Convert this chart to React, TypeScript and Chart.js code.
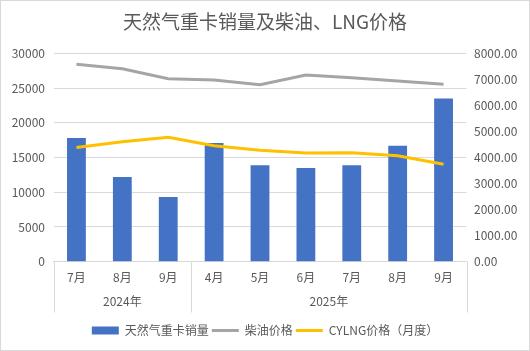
import React, { useEffect, useRef } from 'react';
import { Chart, registerables } from 'chart.js';

Chart.register(...registerables);

const titleText = '天然气重卡销量及柴油、LNG价格';
const months = ['7月', '8月', '9月', '4月', '5月', '6月', '7月', '8月', '9月'];
const yearLabels = ['2024年', '2025年'];
const yearSpans = [3, 6];
const seriesNames = ['天然气重卡销量', '柴油价格', 'CYLNG价格（月度）'];
const sales = [17800, 12200, 9300, 17100, 13900, 13500, 13900, 16700, 23500];
const dieselPrice = [7580, 7410, 7025, 6975, 6795, 7170, 7060, 6940, 6810];
const lngPrice = [4380, 4605, 4775, 4455, 4275, 4175, 4185, 4070, 3740];

const FONT = '"Noto Sans CJK SC", "Noto Sans", sans-serif';
const TEXT = '#595959';
const GRID = '#d9d9d9';

const groupPlugin = {
  id: 'groupAxis',
  afterDraw(chart: any) {
    const x = chart.scales.x;
    const { ctx, chartArea } = chart;
    const bottom = chartArea.bottom;
    const half = (x.getPixelForValue(1) - x.getPixelForValue(0)) / 2;
    ctx.save();
    ctx.strokeStyle = GRID;
    ctx.lineWidth = 1;
    ctx.fillStyle = TEXT;
    ctx.font = `12px ${FONT}`;
    ctx.textAlign = 'center';
    ctx.textBaseline = 'middle';
    let start = 0;
    const edges: number[] = [];
    yearSpans.forEach((span, gi) => {
      const end = start + span - 1;
      const left = x.getPixelForValue(start) - half;
      const right = x.getPixelForValue(end) + half;
      if (gi === 0) edges.push(left);
      edges.push(right);
      ctx.fillText(yearLabels[gi], (left + right) / 2, bottom + 39.6);
      start += span;
    });
    edges.forEach((e) => {
      const px = Math.round(e) + 0.5;
      ctx.beginPath();
      ctx.moveTo(px, bottom);
      ctx.lineTo(px, bottom + 50.8);
      ctx.stroke();
    });
    ctx.restore();
  },
};

export default function App() {
  const ref = useRef<HTMLCanvasElement | null>(null);

  useEffect(() => {
    if (!ref.current) return;
    const chart = new Chart(ref.current, {
      type: 'bar',
      data: {
        labels: months,
        datasets: [
          {
            type: 'bar',
            label: seriesNames[0],
            data: sales,
            backgroundColor: '#4472C4',
            borderColor: '#4472C4',
            borderWidth: 0,
            yAxisID: 'y',
            order: 1,
            barPercentage: 0.41,
            categoryPercentage: 1,
          },
          {
            type: 'line',
            label: seriesNames[1],
            data: dieselPrice,
            borderColor: '#A5A5A5',
            backgroundColor: '#A5A5A5',
            borderWidth: 3,
            pointRadius: 0,
            tension: 0,
            yAxisID: 'y1',
            order: 0,
          },
          {
            type: 'line',
            label: seriesNames[2],
            data: lngPrice,
            borderColor: '#FFC000',
            backgroundColor: '#FFC000',
            borderWidth: 3,
            pointRadius: 0,
            tension: 0,
            yAxisID: 'y1',
            order: 0,
          },
        ] as any,
      },
      options: {
        animation: false,
        responsive: false,
        devicePixelRatio: 1,
        layout: { padding: { left: 0, right: 0, top: 0, bottom: 3.5 } },
        plugins: {
          title: {
            display: true,
            text: titleText,
            color: TEXT,
            font: { family: FONT, size: 19, weight: 'normal' },
            padding: { top: 9.6, bottom: 19.9 },
          },
          legend: {
            display: true,
            position: 'bottom',
            labels: {
              color: TEXT,
              font: { family: FONT, size: 12 },
              usePointStyle: true,
              pointStyleWidth: 27,
              boxHeight: 8,
              padding: 3,
              sort: (a: any, b: any) => a.datasetIndex - b.datasetIndex,
              generateLabels: (c: any) =>
                Chart.defaults.plugins.legend.labels
                  .generateLabels(c)
                  .map((l: any) => {
                    const isBar = l.datasetIndex === 0;
                    return {
                      ...l,
                      pointStyle: isBar ? 'rect' : 'line',
                      lineWidth: isBar ? 0 : 3,
                      lineCap: 'butt',
                    };
                  }),
            },
          },
          tooltip: { enabled: false },
        },
        scales: {
          x: {
            grid: { display: false, drawTicks: false },
            border: { display: true, color: GRID },
            ticks: {
              color: TEXT,
              font: { family: FONT, size: 12 },
              padding: 9,
              autoSkip: false,
              maxRotation: 0,
            },
            afterFit: (s: any) => {
              s.height = 59.8;
            },
          },
          y: {
            position: 'left',
            min: 0,
            max: 30000,
            grid: { color: GRID, lineWidth: 1, drawTicks: false },
            border: { display: false },
            ticks: {
              stepSize: 5000,
              color: TEXT,
              font: { family: FONT, size: 12 },
              padding: 8.5,
              callback: (v: any) => String(v),
            },
            afterFit: (s: any) => {
              s.width = 52.5;
            },
          },
          y1: {
            position: 'right',
            min: 0,
            max: 8000,
            grid: { display: false, drawTicks: false },
            border: { display: false },
            ticks: {
              stepSize: 1000,
              color: TEXT,
              font: { family: FONT, size: 12 },
              padding: 7.5,
              callback: (v: any) => Number(v).toFixed(2),
            },
            afterFit: (s: any) => {
              s.width = 62.5;
            },
          },
        },
      } as any,
      plugins: [groupPlugin],
    });
    return () => chart.destroy();
  }, []);

  return (
    <div
      style={{
        position: 'fixed',
        left: 0,
        top: 0,
        width: 530,
        height: 351,
        boxSizing: 'border-box',
        border: `1px solid ${GRID}`,
        background: '#fff',
      }}
    >
      <canvas ref={ref} width={528} height={349} style={{ display: 'block', width: 528, height: 349 }} />
    </div>
  );
}
